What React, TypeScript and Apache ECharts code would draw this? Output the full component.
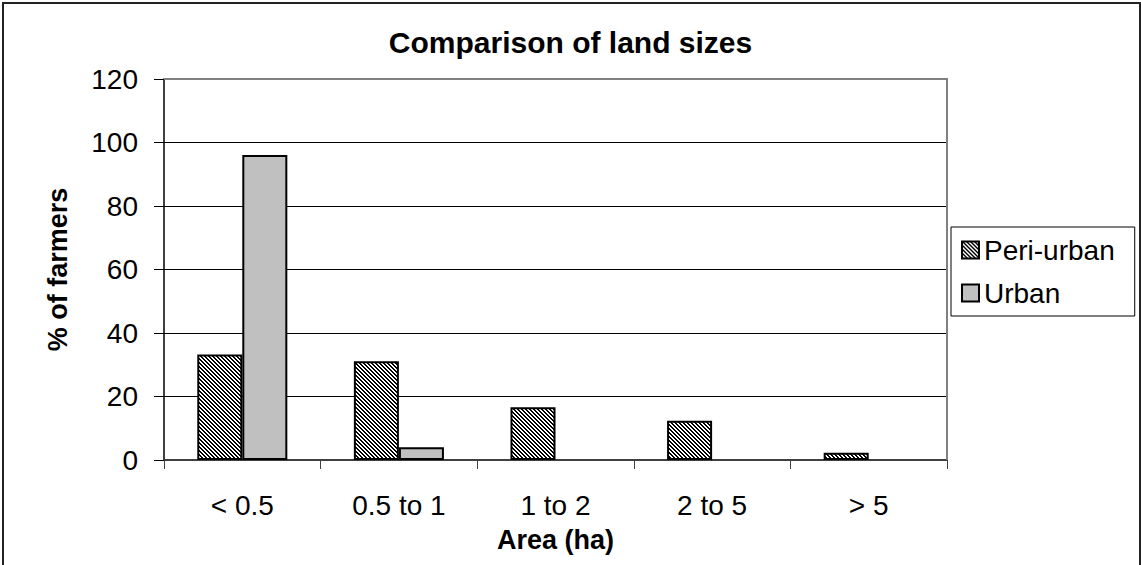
import React, { useEffect, useRef } from "react";
import * as echarts from "echarts";

const categories = ["< 0.5", "0.5 to 1", "1 to 2", "2 to 5", "> 5"];
const periUrban = [33.2, 31.1, 16.6, 12.4, 2.3];
const urban = [96.1, 4.0, 0, 0, 0];
const yTicks = { min: 0, max: 120, interval: 20 };

const FONT = 'Arial, "Liberation Sans", sans-serif';

function makeHatch(): HTMLCanvasElement {
  const c = document.createElement("canvas");
  c.width = 4;
  c.height = 4;
  const ctx = c.getContext("2d")!;
  ctx.fillStyle = "#ffffff";
  ctx.fillRect(0, 0, 4, 4);
  ctx.fillStyle = "#000000";
  for (let i = 0; i < 4; i++) {
    ctx.fillRect(i, i, 1, 1);
    ctx.fillRect((i + 1) % 4, i, 1, 1);
  }
  return c;
}

function toItems(values: number[]) {
  return values.map((v) => (v === 0 ? { value: v, itemStyle: { borderWidth: 0 } } : v));
}

export default function App() {
  const ref = useRef<HTMLDivElement>(null);
  useEffect(() => {
    document.body.style.margin = "0";
    const chart = echarts.init(ref.current!, undefined, { renderer: "svg" });
    const hatch = { image: makeHatch(), repeat: "repeat" };
    const gl = 164, gr = 947, gt = 79, gb = 460;
    chart.setOption({
      animation: false,
      backgroundColor: "#ffffff",
      textStyle: { fontFamily: FONT, color: "#000" },
      title: {
        text: "Comparison of land sizes",
        left: "center",
        top: 27,
        padding: 0,
        textStyle: { fontFamily: FONT, fontSize: 30, fontWeight: "bold", color: "#000" },
      },
      legend: {
        orient: "vertical",
        left: 951,
        top: 227,
        padding: [9, 20, 9, 10],
        borderColor: "#000",
        borderWidth: 1,
        itemWidth: 17,
        itemHeight: 17,
        itemGap: 15,
        icon: "rect",
        textStyle: { fontFamily: FONT, fontSize: 28, color: "#000", lineHeight: 28 },
        data: ["Peri-urban", "Urban"],
      },
      grid: { left: gl, right: 1141 - gr, top: gt, bottom: 565 - gb, containLabel: false },
      xAxis: {
        type: "category",
        data: categories,
        name: "Area (ha)",
        nameLocation: "middle",
        nameGap: 66,
        nameTextStyle: { fontFamily: FONT, fontSize: 27, fontWeight: "bold", color: "#000" },
        axisLine: { lineStyle: { color: "#404040", width: 2 } },
        axisTick: { show: true, length: 9, alignWithLabel: false, lineStyle: { color: "#404040", width: 1 } },
        axisLabel: { fontFamily: FONT, fontSize: 28, color: "#000", margin: 31 },
      },
      yAxis: {
        type: "value",
        min: yTicks.min,
        max: yTicks.max,
        interval: yTicks.interval,
        name: "% of farmers",
        nameLocation: "middle",
        nameGap: 93,
        nameTextStyle: { fontFamily: FONT, fontSize: 27, fontWeight: "bold", color: "#000" },
        axisLine: { show: true, lineStyle: { color: "#000", width: 1.5 } },
        axisTick: { show: true, length: 10, lineStyle: { color: "#000", width: 1 } },
        axisLabel: { fontFamily: FONT, fontSize: 28, color: "#000", margin: 26 },
        splitLine: { show: true, lineStyle: { color: "#000", width: 1 } },
      },
      series: [
        {
          name: "Peri-urban",
          type: "bar",
          data: toItems(periUrban),
          barGap: "0%",
          barCategoryGap: "42.5%",
          itemStyle: { color: hatch, borderColor: "#000", borderWidth: 2 },
        },
        {
          name: "Urban",
          type: "bar",
          data: toItems(urban),
          barGap: "0%",
          barCategoryGap: "42.5%",
          itemStyle: { color: "#c0c0c0", borderColor: "#000", borderWidth: 2 },
        },
      ],
      graphic: [
        {
          type: "polyline",
          z: 100,
          silent: true,
          shape: { points: [[gl, gt], [gr, gt], [gr, gb]] },
          style: { stroke: "#808080", lineWidth: 2, fill: null },
        },
        {
          type: "rect",
          z: 100,
          silent: true,
          shape: { x: 3, y: 3, width: 1137, height: 640 },
          style: { stroke: "#222", lineWidth: 2, fill: null },
        },
      ],
    });
    return () => chart.dispose();
  }, []);
  return <div ref={ref} style={{ width: 1141, height: 565 }} />;
}
